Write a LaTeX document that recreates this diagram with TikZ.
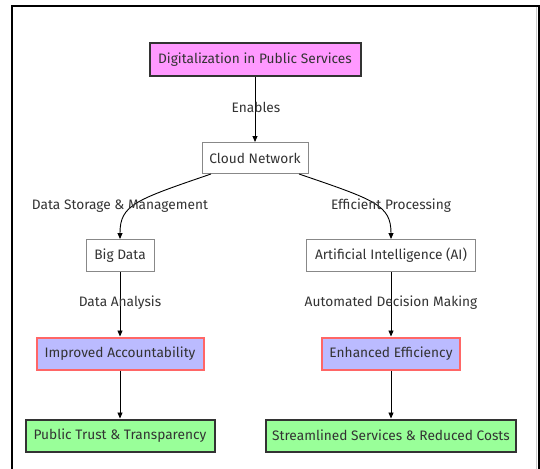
\documentclass[tikz,border=0pt]{standalone}
\usepackage{fontspec}
\setmainfont{Fira Sans}
\usetikzlibrary{arrows.meta}
\definecolor{txt}{HTML}{333333}
\definecolor{pinkf}{HTML}{FF99FF}
\definecolor{bluef}{HTML}{BBBBFF}
\definecolor{redst}{HTML}{FF6666}
\definecolor{greenf}{HTML}{99FF99}
\definecolor{plainst}{HTML}{888888}
\tikzset{
  base/.style={rectangle, inner sep=0pt, text=txt, font=\fontsize{13.7}{16}\selectfont},
  plain/.style={base, draw=plainst, line width=1pt, fill=white},
  startbox/.style={base, draw=txt, line width=2pt, fill=pinkf},
  midbox/.style={base, draw=redst, line width=2pt, fill=bluef},
  endbox/.style={base, draw=txt, line width=2pt, fill=greenf},
  conn/.style={draw=black, line width=0.9pt, -{Triangle[length=6pt,width=5pt]}},
  lbl/.style={text=txt, font=\fontsize{13.7}{16}\selectfont, inner sep=0pt},
}
\begin{document}
\begin{tikzpicture}[x=1pt,y=-1pt]
\useasboundingbox (0,0) rectangle (540,468);
\fill[white] (0,0) rectangle (540,468);
% outer frame
\draw[black, line width=2pt] (12,470) -- (12,6) -- (538.5,6) -- (538.5,470);
\draw[gray!40, line width=1pt] (536.5,7) -- (536.5,470);

\node[startbox, minimum width=211pt, minimum height=33pt] (d) at (255,60) {Digitalization in Public Services};
\node[plain, minimum width=106pt, minimum height=31pt] (c) at (255,158) {Cloud Network};
\node[plain, minimum width=68pt, minimum height=32pt] (b) at (120,255.5) {Big Data};
\node[plain, minimum width=169pt, minimum height=32pt] (ai) at (391,255.5) {Artificial Intelligence (AI)};
\node[midbox, minimum width=167pt, minimum height=32pt] (ia) at (120,353.5) {Improved Accountability};
\node[midbox, minimum width=138pt, minimum height=32pt] (ee) at (391,353.5) {Enhanced Efficiency};
\node[endbox, minimum width=189pt, minimum height=32pt] (pt) at (120,435.5) {Public Trust \& Transparency};
\node[endbox, minimum width=250pt, minimum height=32pt] (ss) at (391,435.5) {Streamlined Services \& Reduced Costs};

\draw[conn] (d.south) -- (c.north);
\draw[conn] ([xshift=-44pt]c.south) .. controls (135,200) and (120,205) .. (b.north);
\draw[conn] ([xshift=44pt]c.south) .. controls (375,200) and (391,205) .. (ai.north);
\draw[conn] (b.south) -- (ia.north);
\draw[conn] (ai.south) -- (ee.north);
\draw[conn] (ia.south) -- (pt.north);
\draw[conn] (ee.south) -- (ss.north);

\node[lbl] (l1) at (256,107) {Enables};
\node[lbl] (l2) at (120,206) {Data Storage \& Management};
\node[lbl] (l3) at (391,206) {Efficient Processing};
\node[lbl] (l4) at (120,303) {Data Analysis};
\node[lbl] (l5) at (391,303) {Automated Decision Making};
\end{tikzpicture}
\end{document}
